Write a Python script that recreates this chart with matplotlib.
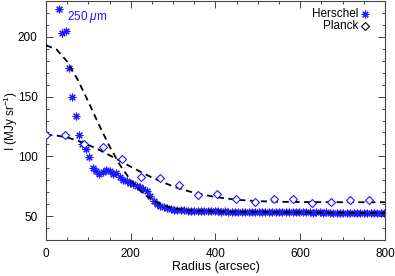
import matplotlib
matplotlib.use("Agg")
import matplotlib.pyplot as plt

plt.rcParams['font.family'] = ['Liberation Sans', 'DejaVu Sans']
plt.rcParams['mathtext.fontset'] = 'custom'
plt.rcParams['mathtext.rm'] = 'Liberation Sans'
plt.rcParams['mathtext.it'] = 'Liberation Sans:italic'

# Herschel 250 micron profile (radius in arcsec, intensity in MJy/sr)
herschel_r = [30, 38, 46, 54, 62, 70, 78, 86, 94, 102, 110, 118, 126, 134, 142,
              150, 158, 166, 174, 182, 190, 198, 206, 214, 222, 230, 238, 246,
              254, 262, 270, 278, 286, 294, 302, 310, 318, 326, 334, 342, 350,
              358, 366, 374, 382, 390, 398, 406, 414, 422, 430, 438, 446, 454,
              462, 470, 478, 486, 494, 502, 510, 518, 526, 534, 542, 550, 558,
              566, 574, 582, 590, 598, 606, 614, 622, 630, 638, 646, 654, 662,
              670, 678, 686, 694, 702, 710, 718, 726, 734, 742, 750, 758, 766,
              774, 782, 790, 798]
herschel_i = [223, 203.5, 205, 174, 150, 133.5, 118, 110, 106, 99.5, 90.5, 87.5,
              85, 86.5, 88.5, 88, 85, 86, 82.5, 80.5, 79.5, 78, 77, 75.5, 74,
              72.5, 71, 66.5, 62.5, 60.5, 58.5, 57.5, 56.5, 56, 55.5, 55.2, 55,
              54.8, 54.6, 54.5, 54.5, 54.4, 54.2, 54.3, 54.1, 54, 54.1, 53.9,
              53.8, 54, 53.7, 53.8, 53.6, 53.7, 53.5, 53.6, 53.4, 53.5, 53.3,
              53.5, 53.4, 53.6, 53.5, 53.4, 53.6, 53.4, 53.3, 53.5, 53.4, 53.2,
              53.4, 53.3, 53.1, 53.3, 53.2, 53.0, 53.2, 53.1, 52.9, 53.1, 53.0,
              52.8, 53.0, 52.9, 52.7, 52.9, 52.8, 52.6, 52.8, 52.7, 52.5, 52.7,
              52.6, 52.4, 52.6, 52.5, 52.3]

# Planck profile
planck_r = [0, 45, 90, 135, 180, 224, 269, 314, 359, 404, 449, 494, 539, 583,
            628, 673, 718, 763]
planck_i = [118, 118, 110, 108, 97.5, 82.8, 82.2, 75.8, 67.5, 68.3, 64.7, 61.4,
            64.2, 64.2, 60.6, 61.4, 63.3, 63.3]

# model curves (dashed)
model_r = [0, 25, 50, 75, 100, 125, 150, 175, 200, 225, 250, 275, 300, 325,
           350, 400, 450, 500, 550, 600, 650, 700, 750, 800]
model_h = [193, 189.4, 179.3, 164, 145.6, 126.4, 108.3, 92.5, 79.8, 70.3, 63.6,
           59.2, 56.6, 55.2, 54.5, 53.9, 53.6, 53.4, 53.2, 53.1, 52.9, 52.8,
           52.6, 52.5]
model_p = [118, 117.4, 115.8, 113.1, 109.6, 105.5, 100.9, 96.2, 91.3, 86.7,
           82.3, 78.4, 74.9, 72.0, 69.5, 65.9, 63.7, 62.5, 62.0, 61.8, 61.7,
           61.6, 61.6, 61.6]

blue = '#1a1aff'
asterisk = (8, 2, 0)

fig = plt.figure(figsize=(3.95, 2.76), dpi=100)
ax = fig.add_axes([0.1165, 0.1304, 0.858, 0.866])

ax.plot(model_r, model_h, color='black', ls=(0, (3.5, 2.5)), lw=1.3, zorder=3)
ax.plot(model_r, model_p, color='black', ls=(0, (3.5, 2.5)), lw=1.3, zorder=3)
ax.plot(herschel_r, herschel_i, ls='none', marker=asterisk, ms=5.5, mew=0.8,
        color=blue, zorder=2)
ax.plot(planck_r, planck_i, ls='none', marker='D', ms=3.6, mew=0.8,
        mec=blue, mfc='white', zorder=4)

ax.set_xlim(0, 800)
ax.set_ylim(30, 230)
ax.set_xticks([0, 200, 400, 600, 800])
ax.set_xticks(range(0, 801, 50), minor=True)
ax.set_yticks([50, 100, 150, 200])
ax.set_yticks(range(30, 231, 10), minor=True)
ax.tick_params(which='both', direction='in', top=True, right=True,
               labelsize=8.5, width=0.7, color='#444444')
ax.tick_params(which='major', length=5, pad=6)
ax.tick_params(which='minor', length=2.5)
for s in ax.spines.values():
    s.set_linewidth(0.8)
    s.set_color('#444444')

ax.set_xlabel('Radius (arcsec)', fontsize=9)
ax.set_ylabel(r'I (MJy sr$^{-1}$)', fontsize=8.5)
ax.xaxis.set_label_coords(0.5, -0.088)
ax.yaxis.set_label_coords(-0.078, 0.5)

ax.text(0.062, 0.935, r'250 $\mu$m', transform=ax.transAxes, color=blue,
        fontsize=8.5, va='center')
ax.text(0.922, 0.945, 'Herschel', transform=ax.transAxes, fontsize=8.5,
        ha='right', va='center')
ax.text(0.922, 0.895, 'Planck', transform=ax.transAxes, fontsize=8.5,
        ha='right', va='center')
ax.plot([0.94], [0.945], transform=ax.transAxes, marker=asterisk, ms=5.5,
        mew=0.8, color=blue, clip_on=False)
ax.plot([0.94], [0.895], transform=ax.transAxes, marker='D', ms=3.6, mew=0.8,
        mec='black', mfc='white', clip_on=False)

fig.savefig('out.png', dpi=100)
